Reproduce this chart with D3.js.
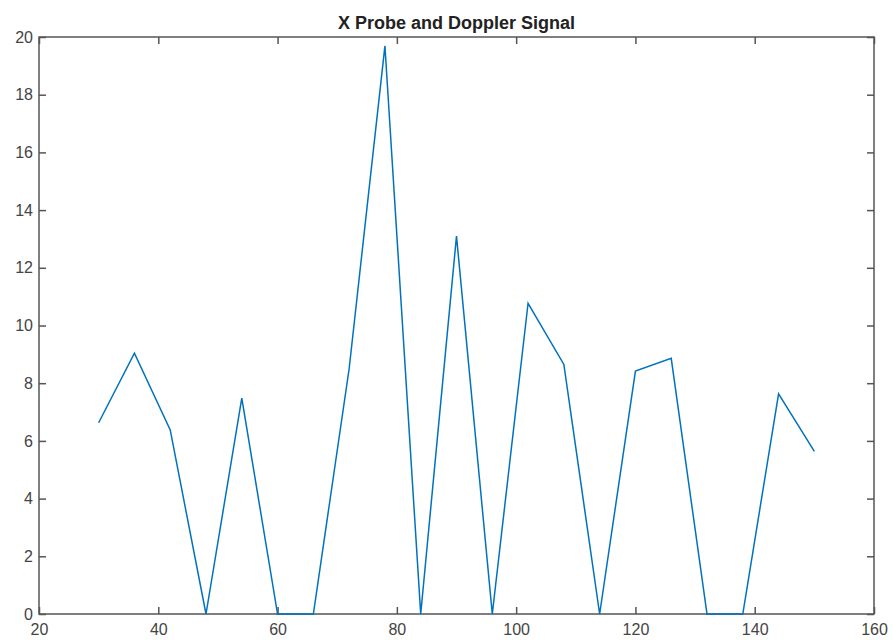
<!DOCTYPE html>
<html lang="en">
<head>
    <meta charset="UTF-8">
    <title>X Probe and Doppler Signal</title>
    <script src="https://d3js.org/d3.v7.min.js"></script>
    <style>
        * { margin: 0; padding: 0; box-sizing: border-box; }
        body { background: white; font-family: Arial, "Liberation Sans", sans-serif; }
        svg { display: block; }
    </style>
</head>
<body>
    <svg width="893" height="640"></svg>

    <script>
        // probe positions and doppler signal
        const probeX = [30, 36, 42, 48, 54, 60, 66, 72, 78, 84, 90, 96, 102, 108, 114, 120, 126, 132, 138, 144, 150];
        const signal = [6.63, 9.04, 6.38, 0, 7.48, 0, 0, 8.5, 19.69, 0, 13.1, 0, 10.77, 8.65, 0, 8.42, 8.86, 0, 0, 7.63, 5.64];
        const xTicks = [20, 40, 60, 80, 100, 120, 140, 160];
        const yTicks = [0, 2, 4, 6, 8, 10, 12, 14, 16, 18, 20];

        const svg = d3.select("svg");
        const margin = { top: 37, right: 19, bottom: 26, left: 39 };
        const width = 893 - margin.left - margin.right;
        const height = 640 - margin.top - margin.bottom;

        const x = d3.scaleLinear().domain([20, 160]).range([0, width]);
        const y = d3.scaleLinear().domain([0, 20]).range([height, 0]);

        const g = svg.append("g").attr("transform", `translate(${margin.left},${margin.top})`);

        const axisColor = "#555";
        const textColor = "#444";

        function styleAxis(sel) {
            sel.select(".domain").remove();
            sel.selectAll(".tick line").attr("stroke", axisColor).attr("stroke-width", 1.5);
            sel.selectAll(".tick text").attr("fill", textColor).attr("font-size", "16px")
                .attr("font-family", "Arial, 'Liberation Sans', sans-serif");
        }

        // bottom / left axes with inward ticks
        g.append("g").attr("transform", `translate(0,${height})`)
            .call(d3.axisBottom(x).tickValues(xTicks).tickSizeInner(-7).tickSizeOuter(0).tickPadding(10))
            .call(styleAxis);
        g.append("g")
            .call(d3.axisLeft(y).tickValues(yTicks).tickSizeInner(-7).tickSizeOuter(0).tickPadding(6))
            .call(styleAxis);
        // top / right ticks
        g.append("g")
            .call(d3.axisTop(x).tickValues(xTicks).tickSizeInner(-7).tickSizeOuter(0).tickFormat(""))
            .call(styleAxis);
        g.append("g").attr("transform", `translate(${width},0)`)
            .call(d3.axisRight(y).tickValues(yTicks).tickSizeInner(-7).tickSizeOuter(0).tickFormat(""))
            .call(styleAxis);

        // box
        g.append("rect")
            .attr("width", width)
            .attr("height", height)
            .attr("fill", "none")
            .attr("stroke", axisColor)
            .attr("stroke-width", 1.5);

        const line = d3.line()
            .x((d, i) => x(probeX[i]))
            .y(d => y(d));

        g.append("path")
            .datum(signal)
            .attr("fill", "none")
            .attr("stroke", "#0072BD")
            .attr("stroke-width", 1.5)
            .attr("stroke-linejoin", "miter")
            .attr("d", line);

        svg.append("text")
            .attr("x", margin.left + width / 2)
            .attr("y", 29)
            .attr("text-anchor", "middle")
            .attr("font-size", "18px")
            .attr("font-weight", "bold")
            .attr("fill", "#222")
            .text("X Probe and Doppler Signal");
    </script>
</body>
</html>
